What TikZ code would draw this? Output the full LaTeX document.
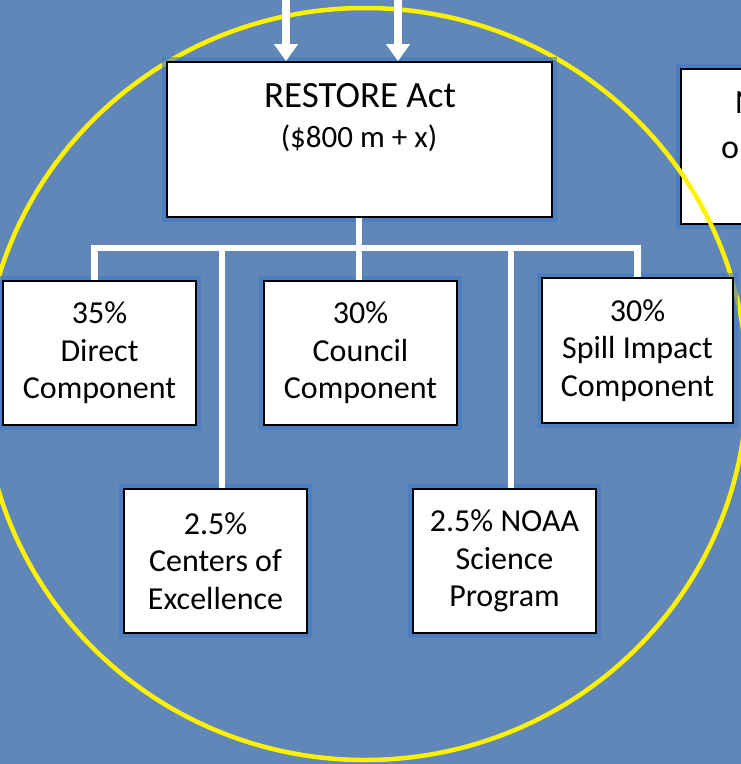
\documentclass[tikz,border=0pt]{standalone}
\usepackage{fontspec}
\setmainfont{Carlito}
\usepackage{tikz}
\usetikzlibrary{positioning,arrows.meta}

\definecolor{slideblue}{RGB}{97,135,184}
\definecolor{glowblue}{RGB}{64,120,202}

\begin{document}
\begin{tikzpicture}[x=1pt,y=-1pt]
        \tikzstyle{fund}=[draw=black,line width=1.8pt,fill=white,inner sep=0pt,align=center,
            preaction={draw=glowblue,line width=10pt,opacity=0.6},
            font=\fontsize{32}{37.5}\selectfont]
        \tikzstyle{branch}=[draw=white,line width=6.5pt]
        \tikzstyle{feed}=[draw=white,line width=8pt,-{Triangle[width=23pt,length=17pt]}]

        \clip (0,0) rectangle (741,764);
        \fill[slideblue] (0,0) rectangle (741,764);

        % source boxes
        \node[fund,anchor=north west,minimum width=110pt,minimum height=155pt] (other) at (680,68) {};
        \node[anchor=base west,inner sep=0pt,font=\fontsize{34}{38}\selectfont] (othertop) at (735,113) {N};
        \node[anchor=base west,inner sep=0pt,font=\fontsize{34}{38}\selectfont] (otherbot) at (721,158) {o};

        \draw[yellow,line width=4.5pt] (365,384) ellipse [x radius=382, y radius=376];

        \draw (359.5,139.5) node[fund,minimum width=385pt,minimum height=155pt] (act) {};
        \node[anchor=base,inner sep=0pt,font=\fontsize{37}{42}\selectfont] (actname) at (360,107) {RESTORE Act};
        \node[anchor=base,inner sep=0pt,font=\fontsize{31}{36}\selectfont] (actsum) at (359,147) {(\$800 m + x)};

        % components
        \draw (99.5,353) node[fund,minimum width=193pt,minimum height=144pt] (direct) {35\%\\Direct\\Component};
        \draw (360.5,353) node[fund,minimum width=193pt,minimum height=144pt] (council) {30\%\\Council\\Component};
        \draw (637.5,350.5) node[fund,minimum width=191pt,minimum height=145pt] (spill) {30\%\\Spill Impact\\Component};
        \draw (215.5,561) node[fund,minimum width=183pt,minimum height=144pt] (centers) {2.5\%\\Centers of\\Excellence};
        \draw (504.5,561) node[fund,minimum width=183pt,minimum height=144pt] (noaa) {2.5\% NOAA\\Science\\Program};

        \coordinate (in1) at (286,0);
        \coordinate (in2) at (398,0);
        \coordinate (bus) at (359,248);

        \draw[feed] (in1) -- (in1 |- act.north);
        \draw[feed] (in2) -- (in2 |- act.north);

        \draw[branch] (act.south -| bus) -- (bus);
        \draw[branch] ([xshift=-5pt]direct.north) -- ([xshift=-5pt]direct.north |- bus) -- (spill.north |- bus) -- (spill.north);
        \draw[branch] (council.north -| bus) -- (bus);
        \draw[branch] ([xshift=6.5pt]centers.north) -- ([xshift=6.5pt]centers.north |- bus);
        \draw[branch] ([xshift=6.5pt]noaa.north) -- ([xshift=6.5pt]noaa.north |- bus);
    \end{tikzpicture}
\end{document}
